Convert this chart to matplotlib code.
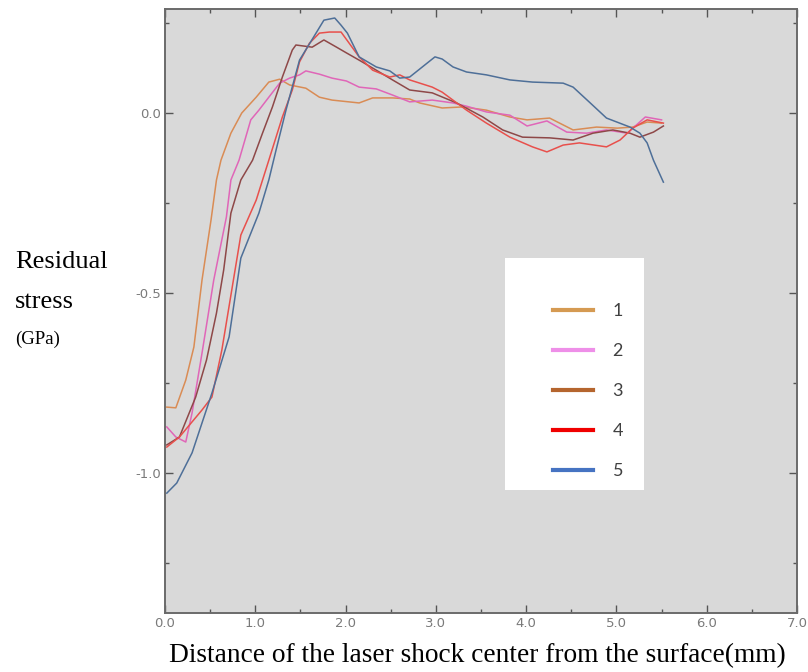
import numpy as np
import matplotlib.pyplot as plt
from matplotlib.lines import Line2D
from matplotlib.patches import Rectangle
from matplotlib.ticker import MultipleLocator, FormatStrFormatter

plt.rcParams['axes.unicode_minus'] = False

# curve 1 (orange)
x1 = [0.02, 0.12, 0.23, 0.32, 0.41, 0.51, 0.57, 0.62, 0.73, 0.85, 1.01, 1.15, 1.27, 1.38,
      1.56, 1.71, 1.85, 2.15, 2.30, 2.52, 2.71, 2.82, 3.07, 3.30, 3.56, 3.82, 4.01, 4.26,
      4.52, 4.78, 5.01, 5.18, 5.34, 5.50]
y1 = [-0.817, -0.819, -0.742, -0.650, -0.464, -0.297, -0.186, -0.131, -0.056, 0.000, 0.044,
      0.086, 0.094, 0.078, 0.069, 0.044, 0.036, 0.028, 0.042, 0.042, 0.039, 0.028, 0.014,
      0.017, 0.008, -0.011, -0.019, -0.014, -0.047, -0.039, -0.042, -0.039, -0.025, -0.028]

# curve 2 (pink)
x2 = [0.02, 0.12, 0.23, 0.30, 0.41, 0.54, 0.68, 0.73, 0.82, 0.95, 1.04, 1.15, 1.27, 1.38,
      1.49, 1.56, 1.71, 1.85, 2.01, 2.15, 2.34, 2.52, 2.71, 2.96, 3.19, 3.34, 3.56, 3.82,
      4.01, 4.23, 4.45, 4.67, 4.89, 5.12, 5.32, 5.50]
y2 = [-0.872, -0.900, -0.914, -0.833, -0.667, -0.464, -0.289, -0.186, -0.131, -0.019, 0.008,
      0.044, 0.083, 0.097, 0.106, 0.117, 0.108, 0.097, 0.089, 0.072, 0.067, 0.050, 0.031,
      0.036, 0.028, 0.019, 0.003, -0.006, -0.036, -0.022, -0.053, -0.056, -0.047, -0.056,
      -0.011, -0.019]

# curve 3 (brown)
x3 = [0.02, 0.16, 0.34, 0.46, 0.57, 0.65, 0.73, 0.84, 0.97, 1.08, 1.19, 1.30, 1.41, 1.45,
      1.63, 1.76, 1.90, 2.01, 2.15, 2.34, 2.52, 2.71, 2.96, 3.23, 3.52, 3.74, 3.96, 4.26,
      4.52, 4.74, 4.96, 5.15, 5.26, 5.41, 5.52]
y3 = [-0.922, -0.900, -0.789, -0.686, -0.556, -0.436, -0.278, -0.186, -0.131, -0.056, 0.017,
      0.100, 0.175, 0.189, 0.183, 0.203, 0.183, 0.167, 0.147, 0.119, 0.092, 0.064, 0.056,
      0.028, -0.011, -0.047, -0.067, -0.069, -0.075, -0.056, -0.047, -0.056, -0.067, -0.053,
      -0.036]

# curve 4 (red)
x4 = [0.02, 0.16, 0.41, 0.52, 0.63, 0.84, 1.01, 1.15, 1.30, 1.41, 1.49, 1.60, 1.71, 1.82,
      1.95, 2.04, 2.15, 2.30, 2.49, 2.60, 2.71, 2.96, 3.07, 3.34, 3.56, 3.82, 4.07, 4.23,
      4.41, 4.59, 4.89, 5.04, 5.18, 5.34, 5.52]
y4 = [-0.928, -0.900, -0.825, -0.789, -0.658, -0.339, -0.242, -0.131, -0.011, 0.064, 0.142,
      0.194, 0.222, 0.225, 0.225, 0.194, 0.156, 0.119, 0.100, 0.106, 0.092, 0.072, 0.058,
      0.008, -0.028, -0.067, -0.094, -0.108, -0.089, -0.083, -0.094, -0.075, -0.042, -0.019,
      -0.028]

# curve 5 (blue)
x5 = [0.02, 0.13, 0.30, 0.52, 0.71, 0.84, 1.04, 1.15, 1.23, 1.34, 1.49, 1.68, 1.76, 1.88,
      1.95, 2.02, 2.15, 2.34, 2.49, 2.60, 2.71, 2.99, 3.07, 3.19, 3.34, 3.56, 3.82, 4.07,
      4.41, 4.52, 4.71, 4.89, 5.15, 5.26, 5.34, 5.41, 5.52]
y5 = [-1.056, -1.028, -0.944, -0.778, -0.622, -0.403, -0.278, -0.186, -0.103, 0.008, 0.147,
      0.225, 0.258, 0.264, 0.244, 0.222, 0.156, 0.128, 0.117, 0.097, 0.100, 0.156, 0.150,
      0.128, 0.114, 0.106, 0.092, 0.086, 0.083, 0.072, 0.028, -0.014, -0.039, -0.056, -0.083,
      -0.131, -0.192]

labels = ['1', '2', '3', '4', '5']
curve_colors = ['#D98C55', '#E066B8', '#8E4848', '#E8504C', '#4E6F98']
legend_colors = ['#D59A52', '#EE8FE8', '#B5652E', '#F00000', '#4673C2']

fig = plt.figure(figsize=(8.08, 6.72), dpi=100)
ax = fig.add_axes([0.2042, 0.0878, 0.7822, 0.8988])
ax.set_facecolor('#D9D9D9')

for xs, ys, c in zip([x1, x2, x3, x4, x5], [y1, y2, y3, y4, y5], curve_colors):
    ax.plot(xs, ys, color=c, lw=1.1)

ax.set_xlim(0, 7)
ax.set_ylim(-1.389, 0.289)
ax.xaxis.set_major_locator(MultipleLocator(1.0))
ax.xaxis.set_minor_locator(MultipleLocator(0.5))
ax.yaxis.set_major_locator(MultipleLocator(0.5))
ax.yaxis.set_minor_locator(MultipleLocator(0.25))
ax.xaxis.set_major_formatter(FormatStrFormatter('%.1f'))
ax.yaxis.set_major_formatter(FormatStrFormatter('%.1f'))
ax.tick_params(which='both', direction='in', top=True, right=True, color='#555555',
               labelcolor='#7A7A7A', labelsize=9.5, pad=3)
ax.tick_params(which='major', length=6, width=1)
ax.tick_params(which='minor', length=3, width=1)
for s in ax.spines.values():
    s.set_color('#6A6A6A')
    s.set_linewidth(1.4)

# legend box (white panel) and entries
ax.add_patch(Rectangle((0.538, 0.2036), 0.22, 0.384, transform=ax.transAxes,
                       facecolor='white', edgecolor='none', zorder=4))
handles = [Line2D([], [], color=c, lw=3) for c in legend_colors]
leg = ax.legend(handles, labels, loc='upper left', bbox_to_anchor=(553 / 808, 1 - 303 / 672),
                bbox_transform=fig.transFigure, frameon=False, borderpad=0, borderaxespad=0,
                handlelength=2.2, handletextpad=1.1, labelspacing=1.33,
                prop={'family': 'Lato', 'size': 13})
leg.set_zorder(5)
for t in leg.get_texts():
    t.set_color('#404040')

serif = 'Liberation Serif'
fig.text(15 / 808, 1 - 268 / 672, 'Residual', family=serif, fontsize=19, va='baseline')
fig.text(15 / 808, 1 - 308 / 672, 'stress', family=serif, fontsize=19, va='baseline')
fig.text(15 / 808, 1 - 344 / 672, '(GPa)', family=serif, fontsize=13.5, va='baseline')
fig.text(477 / 808, 1 - 662 / 672, 'Distance of the laser shock center from the surface(mm)',
         family=serif, fontsize=19.7, ha='center', va='baseline')

fig.savefig('out.png', dpi=100)
